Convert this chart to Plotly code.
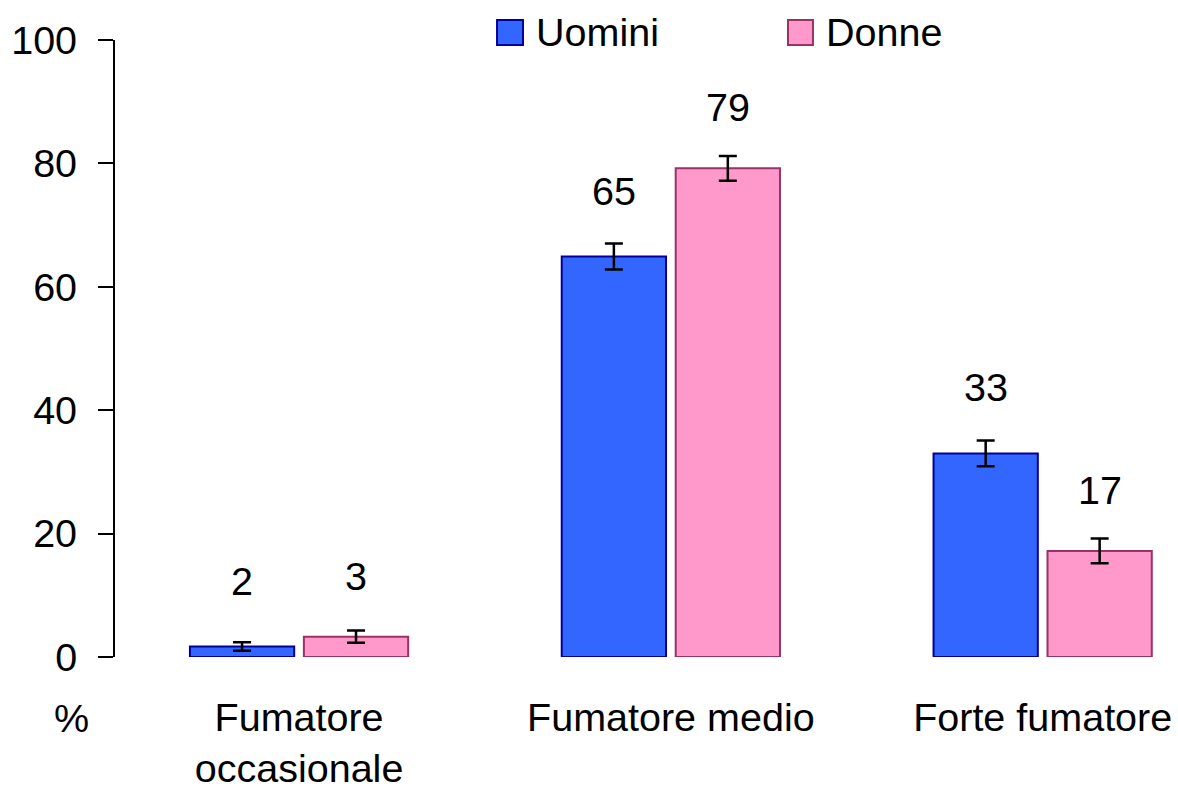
import plotly.graph_objects as go

categories = ["Fumatore<br>occasionale", "Fumatore medio", "Forte fumatore"]
series_names = ["Uomini", "Donne"]
uomini = [1.7, 64.9, 33.0]
donne = [3.3, 79.2, 17.2]
uomini_err = [0.7, 2.1, 2.1]
donne_err = [1.0, 2.0, 2.0]
uomini_labels = ["2", "65", "33"]
donne_labels = ["3", "79", "17"]
y_ticks = [0, 20, 40, 60, 80, 100]

FONT = "Liberation Sans, Arial, sans-serif"
FS = 39.5
BLUE, BLUE_LINE = "#3366FF", "#000099"
PINK, PINK_LINE = "#FF99CC", "#993366"

x_idx = list(range(len(categories)))

fig = go.Figure()
fig.add_trace(go.Bar(
    name=series_names[0], x=x_idx, y=uomini,
    marker=dict(color=BLUE, line=dict(color=BLUE_LINE, width=2)),
    error_y=dict(type="data", array=uomini_err, color="black", thickness=2.5, width=9),
    showlegend=False,
))
fig.add_trace(go.Bar(
    name=series_names[1], x=x_idx, y=donne,
    marker=dict(color=PINK, line=dict(color=PINK_LINE, width=2)),
    error_y=dict(type="data", array=donne_err, color="black", thickness=2.5, width=9),
    showlegend=False,
))

# value labels above bars
slot = (1 - 0.387) / 2
for i, (v, t) in enumerate(zip(uomini, uomini_labels)):
    fig.add_annotation(x=i - slot / 2, y=v, text=t, showarrow=False, yshift=66,
                       font=dict(family=FONT, size=FS, color="black"))
for i, (v, t) in enumerate(zip(donne, donne_labels)):
    fig.add_annotation(x=i + slot / 2, y=v, text=t, showarrow=False, yshift=61,
                       font=dict(family=FONT, size=FS, color="black"))

# "%" unit label
fig.add_annotation(xref="paper", yref="paper", x=-0.0405, y=-0.099, text="%",
                   showarrow=False, xanchor="center", yanchor="middle",
                   font=dict(family=FONT, size=FS, color="black"))

# custom legend
legend_items = [(series_names[0], BLUE, BLUE_LINE, 0.3594, 0.3838, 0.394),
                (series_names[1], PINK, PINK_LINE, 0.6331, 0.6566, 0.667)]
for name, fc, lc, x0, x1, tx in legend_items:
    fig.add_shape(type="rect", xref="paper", yref="paper", x0=x0, x1=x1,
                  y0=0.9919, y1=1.0324, fillcolor=fc, line=dict(color=lc, width=2))
    fig.add_annotation(xref="paper", yref="paper", x=tx, y=1.0122, text=name,
                       showarrow=False, xanchor="left", yanchor="middle",
                       font=dict(family=FONT, size=FS, color="black"))

fig.update_layout(
    width=1178, height=787,
    margin=dict(l=115, r=0, t=40, b=130),
    paper_bgcolor="white", plot_bgcolor="white",
    barmode="group", bargap=0.387, bargroupgap=0.085,
    font=dict(family=FONT, size=FS, color="black"),
    xaxis=dict(
        range=[-0.495, 2.364], tickmode="array", tickvals=x_idx, ticktext=categories,
        showline=False, showgrid=False, zeroline=False, ticks="", automargin=False,
        ticklabelstandoff=33, tickfont=dict(family=FONT, size=FS, color="black"),
    ),
    yaxis=dict(
        range=[0, 100], tickmode="array", tickvals=y_ticks, automargin=False,
        showline=True, linecolor="black", linewidth=2,
        ticks="outside", ticklen=15, tickwidth=2, tickcolor="black",
        showgrid=False, zeroline=False, ticklabelstandoff=13,
        tickfont=dict(family=FONT, size=FS, color="black"),
    ),
)

fig.write_html(
    "out.html",
    config={"displayModeBar": False},
    post_script="document.body.style.margin='0';document.documentElement.style.overflow='hidden';",
)
